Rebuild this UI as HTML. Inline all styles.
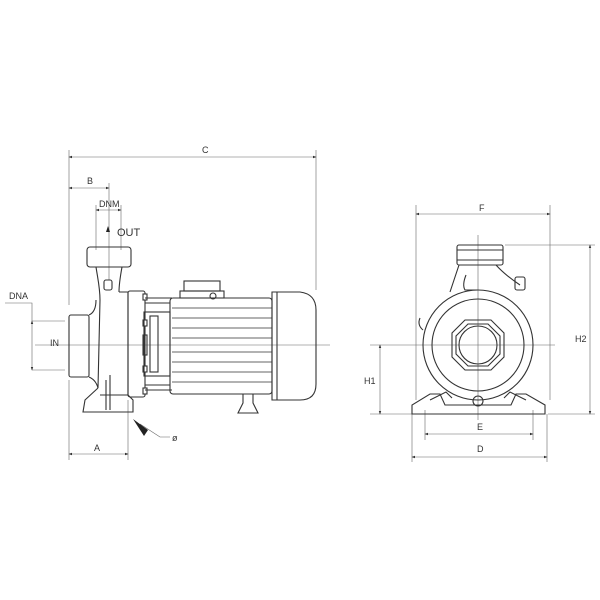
<!DOCTYPE html>
<html><head><meta charset="utf-8"><style>html,body{margin:0;background:#fff}svg{display:block}</style></head>
<body>
<svg width="600" height="600" viewBox="0 0 600 600" xmlns="http://www.w3.org/2000/svg" font-family="Liberation Sans, sans-serif" font-size="9" fill="none" stroke="#333" stroke-width="1">
<defs>
<marker id="a" markerWidth="6" markerHeight="6" refX="5" refY="3" orient="auto-start-reverse"><path d="M0,1 L6,3 L0,5z" fill="#333" stroke="none"/></marker>
</defs>
<g stroke="#666" stroke-width="0.6">
<!-- LEFT VIEW dims -->
<line x1="69" y1="150" x2="69" y2="305"/><line x1="316" y1="150" x2="316" y2="290"/>
<line x1="69" y1="157" x2="316" y2="157" marker-start="url(#a)" marker-end="url(#a)"/>
<line x1="69" y1="188" x2="109" y2="188" marker-start="url(#a)" marker-end="url(#a)"/>
<line x1="109" y1="183" x2="109" y2="280"/>
<line x1="96" y1="205" x2="96" y2="250"/><line x1="121" y1="205" x2="121" y2="250"/>
<line x1="96" y1="210" x2="121" y2="210" marker-start="url(#a)" marker-end="url(#a)"/>
<line x1="35" y1="345" x2="330" y2="345"/>
<polyline points="5,303 32,303 32,321"/>
<line x1="32" y1="321" x2="32" y2="370" marker-start="url(#a)" marker-end="url(#a)"/>
<line x1="32" y1="321" x2="65" y2="321"/><line x1="32" y1="370" x2="65" y2="370"/>
<line x1="69" y1="380" x2="69" y2="460"/><line x1="128" y1="400" x2="128" y2="460"/>
<line x1="69" y1="454" x2="128" y2="454" marker-start="url(#a)" marker-end="url(#a)"/>
<polyline points="170,437 160,437 140,424"/>
<!-- RIGHT VIEW dims -->
<line x1="416" y1="205" x2="416" y2="400"/><line x1="550" y1="205" x2="550" y2="400"/>
<line x1="416" y1="214" x2="550" y2="214" marker-start="url(#a)" marker-end="url(#a)"/>
<line x1="505" y1="245" x2="595" y2="245"/><line x1="548" y1="414" x2="595" y2="414"/>
<line x1="590" y1="245" x2="590" y2="414" marker-start="url(#a)" marker-end="url(#a)"/>
<line x1="370" y1="345" x2="555" y2="345"/><line x1="370" y1="414" x2="412" y2="414"/>
<line x1="380" y1="345" x2="380" y2="414" marker-start="url(#a)" marker-end="url(#a)"/>
<line x1="478" y1="235" x2="478" y2="420"/>
<line x1="425" y1="410" x2="425" y2="440"/><line x1="533" y1="410" x2="533" y2="440"/>
<line x1="425" y1="434" x2="533" y2="434" marker-start="url(#a)" marker-end="url(#a)"/>
<line x1="412" y1="414" x2="412" y2="462"/><line x1="547" y1="414" x2="547" y2="462"/>
<line x1="412" y1="457" x2="547" y2="457" marker-start="url(#a)" marker-end="url(#a)"/>
</g>
<path d="M133,419 L148,430 L144,436z" fill="#222" stroke="none"/>
<path d="M108,226 L106,232 L110,232z" fill="#222" stroke="none"/>
<g fill="#333" stroke="none" font-size="9">
<text x="202" y="153">C</text><text x="87" y="184">B</text><text x="99" y="207">DNM</text>
<text x="117" y="236" font-size="11">OUT</text><text x="9" y="299">DNA</text><text x="50" y="346">IN</text>
<text x="94" y="451">A</text><text x="172" y="441">ø</text>
<text x="479" y="211">F</text><text x="575" y="342">H2</text><text x="364" y="384">H1</text>
<text x="477" y="430">E</text><text x="477" y="452">D</text>
</g>
<!-- LEFT PUMP -->
<g stroke="#333" stroke-width="1.1">
<rect x="87" y="247" width="44" height="20" rx="3"/>
<path d="M96,267 C98,280 100,288 100,300 L98,388 M122,267 C120,278 119,286 119,292"/>
<rect x="104" y="280" width="8" height="10" rx="2"/>
<path d="M119,292 L128,292 L128,395 L100,395"/>
<rect x="69" y="315" width="20" height="62" rx="2"/>
<path d="M89,315 Q96,312 96,300 M89,377 Q96,380 98,388"/>
<path d="M98,388 L85,400 L83,412 L133,412 L133,400 L128,395"/>
<line x1="106" y1="380" x2="106" y2="410"/><line x1="110" y1="375" x2="110" y2="410"/>
<rect x="128" y="291" width="17" height="106" rx="2"/>
<g fill="#fff"><rect x="143" y="294" width="4" height="6"/><rect x="143" y="320" width="4" height="6"/><rect x="143" y="366" width="4" height="6"/><rect x="143" y="388" width="4" height="6"/></g>
<path d="M145,298 L172,298 M145,303 L170,303 M145,385 L170,385 M145,390 L172,390"/>
<rect x="144" y="312" width="26" height="64"/>
<rect x="150" y="316" width="8" height="56"/>
<rect x="143" y="335" width="4" height="20"/>
<rect x="170" y="298" width="102" height="96" rx="3"/>
<g stroke-width="0.8">
<line x1="172" y1="308" x2="272" y2="308"/><line x1="172" y1="318" x2="272" y2="318"/><line x1="172" y1="328" x2="272" y2="328"/><line x1="172" y1="338" x2="272" y2="338"/><line x1="172" y1="352" x2="272" y2="352"/><line x1="172" y1="362" x2="272" y2="362"/><line x1="172" y1="372" x2="272" y2="372"/><line x1="172" y1="382" x2="272" y2="382"/>
</g>
<rect x="180" y="291" width="44" height="7"/>
<rect x="184" y="281" width="36" height="10"/>
<circle cx="213" cy="296" r="3"/>
<path d="M272,292 L300,292 Q316,294 316,310 L316,384 Q316,400 300,400 L272,400z"/>
<line x1="277" y1="292" x2="277" y2="400"/>
<path d="M243,394 L243,403 L238,413 L258,413 L253,403 L253,394"/>
</g>
<!-- RIGHT PUMP -->
<g stroke="#333" stroke-width="1.1">
<rect x="457" y="245" width="46" height="20" rx="2"/>
<line x1="457" y1="250" x2="503" y2="250"/><line x1="457" y1="260" x2="503" y2="260"/>
<path d="M459,265 L450,292 M496,265 Q505,275 520,285"/>
<path d="M466,275 Q462,285 465,290 L478,290"/>
<rect x="515" y="277" width="10" height="13" rx="2"/>
<circle cx="478" cy="345" r="55"/>
<circle cx="478" cy="345" r="46"/>
<path d="M420,318 Q417,325 423,330"/>
<polygon points="465,320 491,320 504,333 504,357 491,370 465,370 452,357 452,333"/>
<polygon points="468,324 488,324 500,336 500,354 488,366 468,366 456,354 456,336"/>
<circle cx="478" cy="345" r="19"/>
<path d="M412,414 L412,405 L430,394 L440,394 L445,405 L511,405 L516,394 L526,394 L545,405 L545,414z"/>
<path d="M430,400 L446,392 L452,398 M526,400 L510,392 L504,398"/>
<circle cx="478" cy="401" r="5"/>
</g>
</svg>
</body></html>
